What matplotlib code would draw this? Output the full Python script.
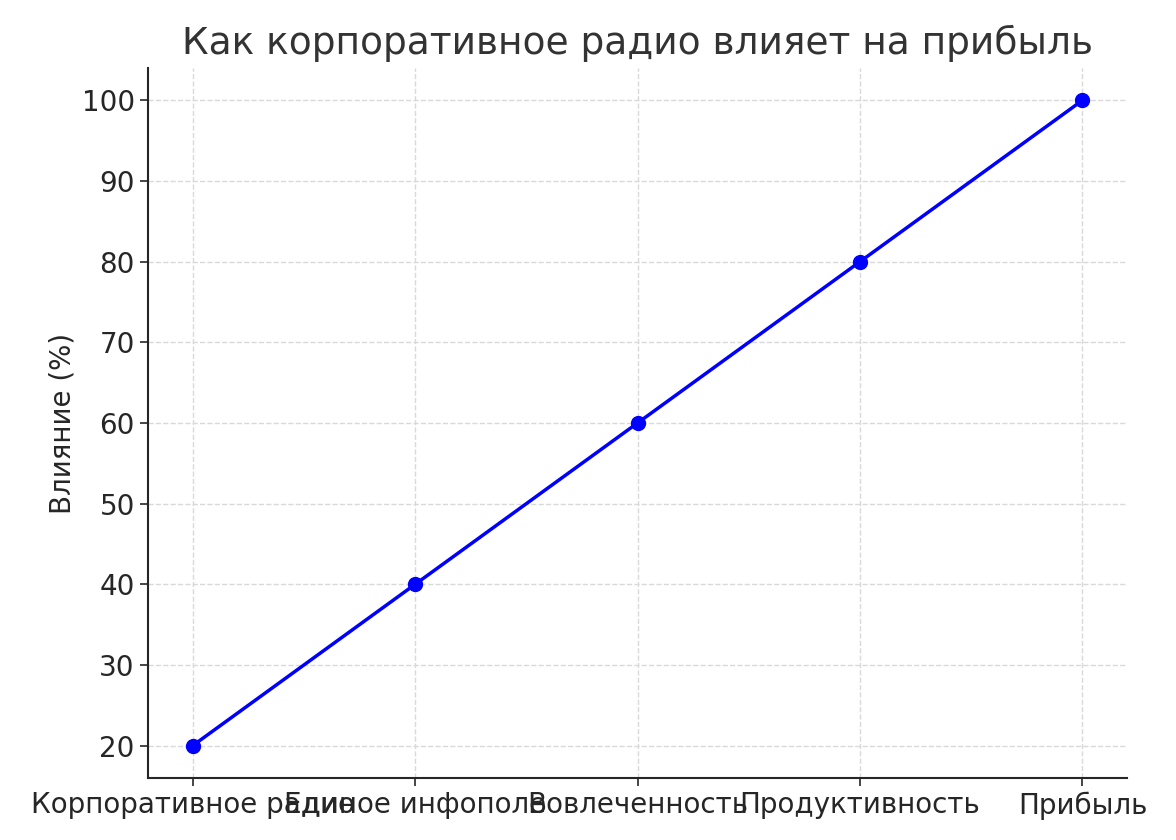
import matplotlib
matplotlib.use("Agg")
import matplotlib.pyplot as plt

categories = ["Корпоративное радио", "Единое инфополе", "Вовлеченность", "Продуктивность", "Прибыль"]
values = [20, 40, 60, 80, 100]
title = "Как корпоративное радио влияет на прибыль"
ylabel = "Влияние (%)"

plt.rcParams['font.family'] = ['DejaVu Sans']
fig = plt.figure(figsize=(11.76, 8.4), dpi=100)
ax = fig.add_axes([0.1259, 0.0738, 0.8324, 0.8452])

ax.plot(categories, values, color='blue', linewidth=2.5, marker='o', markersize=10)

ax.set_title(title, fontsize=27, color='#333333', pad=10)
ax.set_ylabel(ylabel, fontsize=20, color='#262626')
ax.tick_params(axis='both', labelsize=20, labelcolor='#262626', length=6, width=1.2, color='#262626')
ax.grid(True, linestyle='--', color='#d9d9d9', linewidth=1)
ax.set_axisbelow(True)
for s in ['top', 'right']:
    ax.spines[s].set_visible(False)
for s in ['left', 'bottom']:
    ax.spines[s].set_linewidth(1.5)
    ax.spines[s].set_color('#262626')

fig.savefig("out.png", dpi=100)
